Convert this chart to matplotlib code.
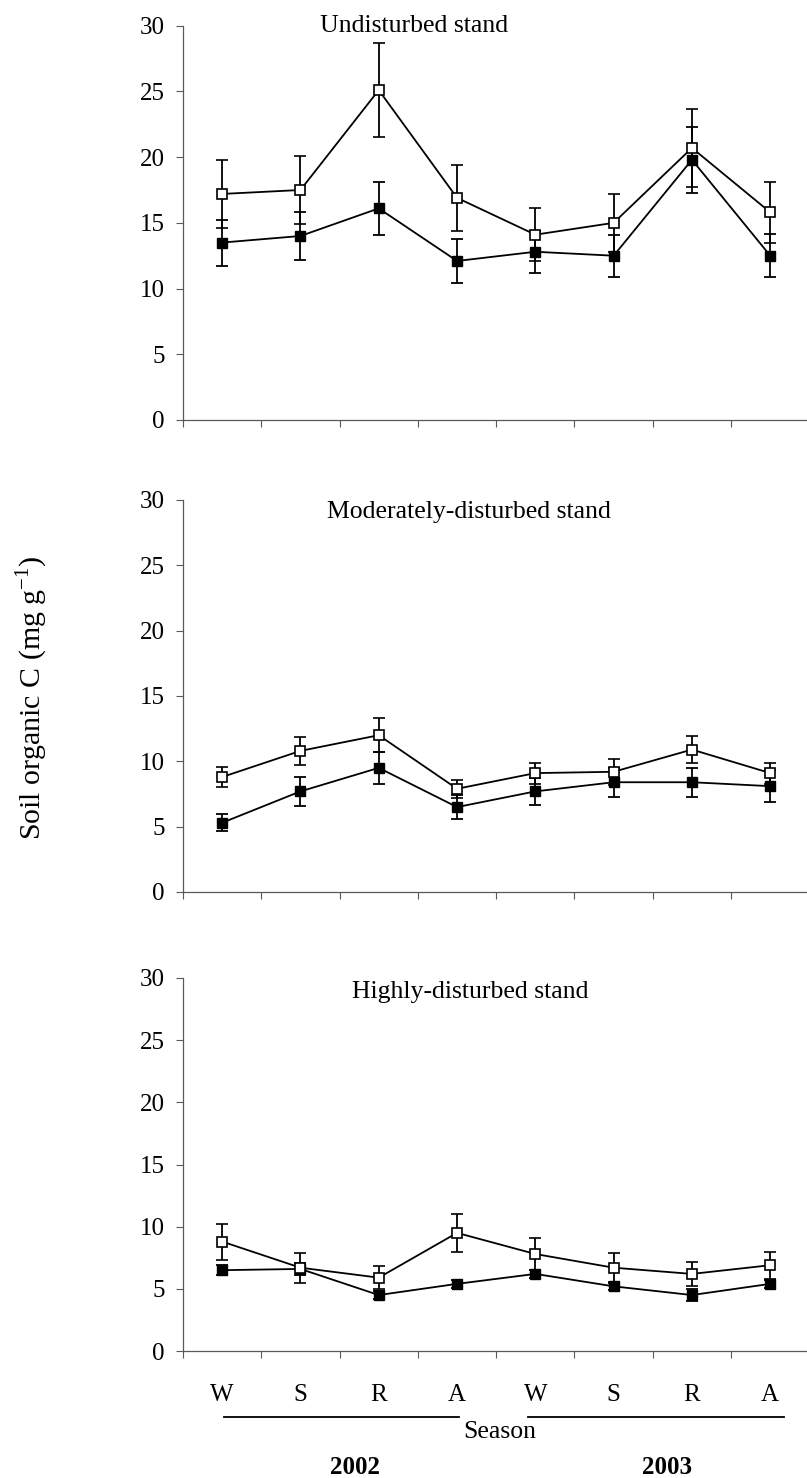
import matplotlib
matplotlib.use("Agg")
import matplotlib.pyplot as plt
import numpy as np

plt.rcParams['font.family'] = ['Liberation Serif', 'DejaVu Serif']
plt.rcParams['mathtext.fontset'] = 'custom'
plt.rcParams['mathtext.rm'] = 'Liberation Serif'

seasons = ["W", "S", "R", "A", "W", "S", "R", "A"]
years = ["2002", "2003"]
panel_titles = ["Undisturbed stand", "Moderately-disturbed stand", "Highly-disturbed stand"]

# Undisturbed stand
und_open = [17.2, 17.5, 25.1, 16.9, 14.1, 15.0, 20.7, 15.8]
und_open_err = [2.6, 2.6, 3.6, 2.5, 2.0, 2.2, 3.0, 2.3]
und_fill = [13.5, 14.0, 16.1, 12.1, 12.8, 12.5, 19.8, 12.5]
und_fill_err = [1.75, 1.85, 2.0, 1.65, 1.6, 1.6, 2.5, 1.65]

# Moderately-disturbed stand
mod_open = [8.8, 10.8, 12.0, 7.9, 9.1, 9.2, 10.9, 9.1]
mod_open_err = [0.8, 1.1, 1.3, 0.7, 0.8, 1.0, 1.05, 0.8]
mod_fill = [5.3, 7.7, 9.5, 6.5, 7.7, 8.4, 8.4, 8.1]
mod_fill_err = [0.65, 1.1, 1.25, 0.9, 1.05, 1.1, 1.1, 1.2]

# Highly-disturbed stand
hi_open = [8.8, 6.7, 5.9, 9.5, 7.8, 6.7, 6.2, 6.9]
hi_open_err = [1.45, 1.2, 0.95, 1.5, 1.3, 1.15, 0.95, 1.1]
hi_fill = [6.5, 6.6, 4.5, 5.4, 6.2, 5.2, 4.5, 5.4]
hi_fill_err = [0.4, 0.5, 0.3, 0.3, 0.3, 0.3, 0.45, 0.35]

panels = [
    (und_open, und_open_err, und_fill, und_fill_err),
    (mod_open, mod_open_err, mod_fill, mod_fill_err),
    (hi_open, hi_open_err, hi_fill, hi_fill_err),
]

W, H = 807, 1478
fig = plt.figure(figsize=(W / 100, H / 100), dpi=100)

# pixel boxes (top, bottom) of each axes
boxes = [(25.7, 420.0), (500.0, 892.0), (978.0, 1351.0)]
left_px = 183.0
cat_px = 78.3
title_pos = [(2.45, 30.0), (3.15, 29.1), (3.17, 28.9)]

x = np.arange(len(seasons))
axes = []
for i, ((top, bot), (o, oe, f, fe)) in enumerate(zip(boxes, panels)):
    ax = fig.add_axes([left_px / W, 1 - bot / H, 8 * cat_px / W, (bot - top) / H])
    axes.append(ax)
    ax.set_xlim(-0.5, 7.5)
    ax.set_ylim(0, 30)
    for s in ["top", "right"]:
        ax.spines[s].set_visible(False)
    for s in ["left", "bottom"]:
        ax.spines[s].set_color("0.35")
        ax.spines[s].set_linewidth(0.9)
    ax.set_yticks(np.arange(0, 31, 5))
    ax.tick_params(axis="y", direction="out", length=5, width=0.8, color="0.35",
                   labelsize=18, pad=8)
    ax.set_xticks(x)
    ax.set_xticks(np.arange(-0.5, 7.6, 1.0), minor=True)
    ax.tick_params(axis="x", which="major", length=0, labelsize=18, pad=24)
    ax.tick_params(axis="x", which="minor", direction="out", length=5, width=0.8, color="0.35")
    if i == 2:
        ax.set_xticklabels(seasons)
    else:
        ax.set_xticklabels([])

    ax.errorbar(x, f, yerr=fe, color="black", lw=1.3, capsize=4.5, capthick=1.3,
                marker="s", markersize=7.5, markerfacecolor="black", markeredgecolor="black",
                zorder=3)
    ax.errorbar(x, o, yerr=oe, color="black", lw=1.3, capsize=4.5, capthick=1.3,
                marker="s", markersize=7.5, markerfacecolor="white", markeredgecolor="black",
                markeredgewidth=1.2, zorder=4)
    tx, ty = title_pos[i]
    ax.text(tx, ty, panel_titles[i], ha="center", va="center", fontsize=18.5)

# shared y label
fig.text(32 / W, 1 - 698 / H, "Soil organic C (mg g$^{\\mathregular{-1}}$)", rotation=90,
         ha="center", va="center", fontsize=21.5)

# year lines and labels under bottom axes
axb = axes[2]
trans = axb.get_xaxis_transform()
span = 1351 - 978
y_line = -(1417 - 1351) / span
axb.plot([0.03, 3.03], [y_line, y_line], color="black", lw=1.3, transform=trans, clip_on=False)
axb.plot([3.9, 7.17], [y_line, y_line], color="black", lw=1.3, transform=trans, clip_on=False)
axb.text(3.55, -(1432 - 1351) / span, "Season", transform=trans, ha="center",
         va="center", fontsize=18.5)
axb.text(1.70, -(1467 - 1351) / span, years[0], transform=trans, ha="center",
         va="center", fontsize=18, fontweight="bold")
axb.text(5.68, -(1467 - 1351) / span, years[1], transform=trans, ha="center",
         va="center", fontsize=18, fontweight="bold")

fig.savefig("out.png", dpi=100)
